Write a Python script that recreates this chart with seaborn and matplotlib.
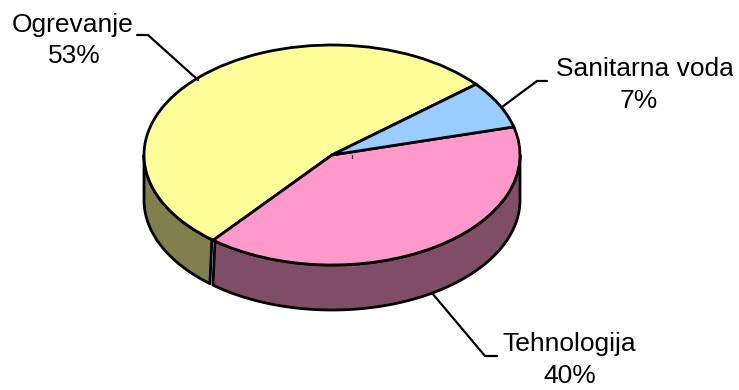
import numpy as np
import matplotlib
matplotlib.use("Agg")
import matplotlib.pyplot as plt
import seaborn as sns

categories = ["Ogrevanje", "Tehnologija", "Sanitarna voda"]
values = [53, 40, 7]
tops = ["#FFFF99", "#FF99CC", "#99CCFF"]
sides = ["#80804D", "#804D66", "#4D6680"]

sns.set_theme(style="white")
plt.rcParams["font.family"] = ["Liberation Sans", "DejaVu Sans"]

W, H = 739, 390
CX, CY, RX, RY, DEPTH = 332, 155, 188, 110, 45
START = 40
FS = 19
LW = 2.0

fig = plt.figure(figsize=(W / 100, H / 100), dpi=100, facecolor="white")
ax = fig.add_axes([0, 0, 1, 1])

wedges, _ = ax.pie(values, colors=sns.color_palette(tops), startangle=START, counterclock=True,
                   wedgeprops=dict(edgecolor="black", linewidth=LW, zorder=5))
ax.set_aspect("auto")
ax.set_xlim(-CX / RX, (W - CX) / RX)
ax.set_ylim(-(H - CY) / RY, CY / RY)
ax.axis("off")


def P(x, y):
    return (x - CX) / RX, (CY - y) / RY


# visible outer wall of the lower half, split where the slices meet
d = DEPTH / RY
edges = START + np.cumsum([0] + values) * 3.6
offsets = {0: (0, 0, -0.5, -1.3), 1: (0.7, -0.1, 0, 0)}
for i, col in enumerate(sides):
    a0, a1 = edges[i], edges[i + 1]
    a0, a1 = max(a0, 180), min(a1, 360)
    if a0 >= a1:
        continue
    s_top, s_bot, e_top, e_bot = offsets[i]
    t_top = np.radians(np.linspace(a0 + s_top, a1 + e_top, 200))
    t_bot = np.radians(np.linspace(a0 + s_bot, a1 + e_bot, 200))
    xs = np.r_[np.cos(t_top), np.cos(t_bot[::-1])]
    ys = np.r_[np.sin(t_top), np.sin(t_bot[::-1]) - d]
    ax.fill(xs, ys, facecolor=col, edgecolor="black", linewidth=LW, zorder=3, joinstyle="round")

leaders = [
    [(198, 80), (148, 35), (137, 35)],
    [(432, 293), (485, 356), (497, 356)],
    [(502, 107), (537, 81), (547, 81)],
]
for pts in leaders:
    xy = np.array([P(*p) for p in pts])
    ax.plot(xy[:, 0], xy[:, 1], color="black", lw=1.6, zorder=6, solid_joinstyle="miter")

tick = np.array([P(352, 155), P(352, 158)])
ax.plot(tick[:, 0], tick[:, 1], color="#333333", lw=0.9, zorder=6)

name_pos = [(73, 32), (569.5, 351), (645, 76)]
pct_pos = [(74, 63), (569.5, 383), (639, 108)]
for cat, val, (x1, y1), (x2, y2) in zip(categories, values, name_pos, pct_pos):
    ax.text(*P(x1, y1), cat, ha="center", va="baseline", fontsize=FS, color="black", zorder=7)
    ax.text(*P(x2, y2), f"{val}%", ha="center", va="baseline", fontsize=FS, color="black", zorder=7)

# the reference cuts the last letter of the right label here
ax.axvspan(P(733, 0)[0], P(W, 0)[0], color="white", lw=0, zorder=8)

fig.savefig("out.png", dpi=100, facecolor="white")
